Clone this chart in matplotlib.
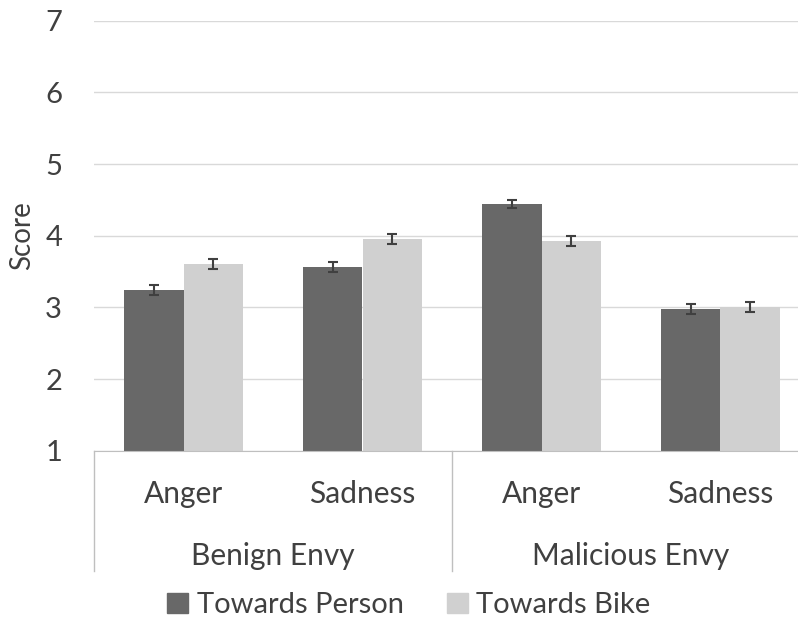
import matplotlib.pyplot as plt
import numpy as np
from matplotlib.lines import Line2D
from matplotlib.patches import Patch

plt.rcParams['font.family'] = ['Lato', 'DejaVu Sans']

# dados
emocoes = ['Anger', 'Sadness', 'Anger', 'Sadness']
grupos = ['Benign Envy', 'Malicious Envy']
series = ['Towards Person', 'Towards Bike']
pessoa = [3.24, 3.57, 4.44, 2.98]
bike = [3.60, 3.95, 3.92, 3.00]
erro_pessoa = [0.07, 0.07, 0.06, 0.07]
erro_bike = [0.07, 0.07, 0.07, 0.07]
yticks = [1, 2, 3, 4, 5, 6, 7]

cor_texto = '#404040'
cor_escura = '#686868'
cor_clara = '#d0d0d0'

fig = plt.figure(figsize=(7.98, 6.20), dpi=100)
ax = fig.add_axes([94 / 798, 169.3 / 620, 716 / 798, 430 / 620])

x = np.arange(len(emocoes))
w = 0.335
ax.bar(x - w / 2, pessoa, w, color=cor_escura, zorder=2)
ax.bar(x + w / 2, bike, w, color=cor_clara, zorder=2)
ax.errorbar(x - w / 2, pessoa, yerr=erro_pessoa, fmt='none', ecolor='#404040',
            elinewidth=1.5, capsize=3.5, capthick=1.5, zorder=3)
ax.errorbar(x + w / 2, bike, yerr=erro_bike, fmt='none', ecolor='#404040',
            elinewidth=1.5, capsize=3.5, capthick=1.5, zorder=3)

ax.set_ylim(1, 7)
ax.set_xlim(-0.5, 3.5)
ax.set_yticks(yticks)
ax.set_yticklabels([str(t) for t in yticks], fontsize=21, color=cor_texto)
ax.tick_params(axis='y', length=0, pad=23)
ax.set_xticks([])
ax.grid(axis='y', color='#d9d9d9', linewidth=1, zorder=0)
for s in ['top', 'right', 'left']:
    ax.spines[s].set_visible(False)
ax.spines['bottom'].set_color('#bfbfbf')
ax.spines['bottom'].set_zorder(4)

# titulo do eixo y
fig.text(22 / 798, 1 - 236 / 620, 'Score', rotation=90, ha='center', va='center',
         fontsize=20, color=cor_texto)

# rotulos das categorias e grupos
trans = ax.get_xaxis_transform()
for i, e in enumerate(emocoes):
    ax.text(i, -0.1, e, transform=trans, ha='center', va='center',
            fontsize=21.5, color=cor_texto)
for j, g in enumerate(grupos):
    ax.text(2 * j + 0.5, -0.244, g, transform=trans, ha='center', va='center',
            fontsize=21.5, color=cor_texto)
for xv in [-0.5, 1.5, 3.5]:
    ax.add_line(Line2D([xv, xv], [0, -0.28], transform=trans, color='#bfbfbf',
                       linewidth=1, clip_on=False))

handles = [Patch(color=cor_escura), Patch(color=cor_clara)]
fig.legend(handles, series, loc='center', bbox_to_anchor=(409 / 798, 1 - 605 / 620),
           ncol=2, frameon=False, fontsize=21, handlelength=0.7, handleheight=0.7,
           handletextpad=0.3, columnspacing=1.5, labelcolor=cor_texto)

fig.savefig('out.png', dpi=100)
